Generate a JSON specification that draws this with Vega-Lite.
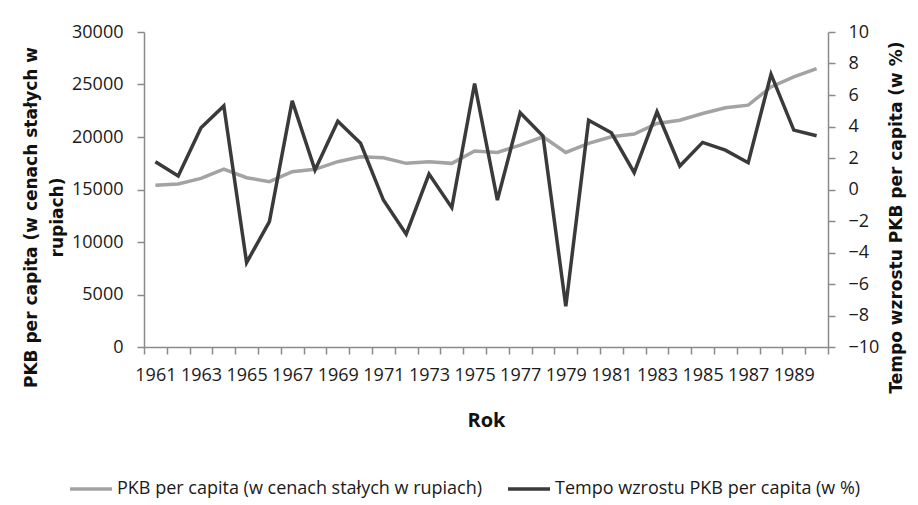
{
  "$schema": "https://vega.github.io/schema/vega-lite/v6.json",
  "width": 684,
  "height": 315,
  "autosize": {"type": "none"},
  "padding": {"left": 144, "top": 32, "right": 90, "bottom": 158},
  "background": "white",
  "config": {
    "view": {"stroke": null},
    "axis": {
      "domainColor": "#8a8a8a",
      "tickColor": "#8a8a8a",
      "domainWidth": 1.5,
      "tickWidth": 1.5,
      "grid": false,
      "labelFont": "Open Sans",
      "labelFontSize": 18,
      "labelColor": "#1a1a1a",
      "titleColor": "#111111"
    }
  },
  "data": {
    "values": [
      {"year": 1961, "pkb": 15400, "growth": 1.76},
      {"year": 1962, "pkb": 15520, "growth": 0.86},
      {"year": 1963, "pkb": 16060, "growth": 3.92},
      {"year": 1964, "pkb": 16950, "growth": 5.31},
      {"year": 1965, "pkb": 16120, "growth": -4.64},
      {"year": 1966, "pkb": 15750, "growth": -2.04},
      {"year": 1967, "pkb": 16700, "growth": 5.63},
      {"year": 1968, "pkb": 16920, "growth": 1.24},
      {"year": 1969, "pkb": 17650, "growth": 4.34},
      {"year": 1970, "pkb": 18120, "growth": 2.93},
      {"year": 1971, "pkb": 18030, "growth": -0.67},
      {"year": 1972, "pkb": 17490, "growth": -2.84},
      {"year": 1973, "pkb": 17650, "growth": 0.98},
      {"year": 1974, "pkb": 17490, "growth": -1.15},
      {"year": 1975, "pkb": 18660, "growth": 6.73},
      {"year": 1976, "pkb": 18530, "growth": -0.67},
      {"year": 1977, "pkb": 19230, "growth": 4.87},
      {"year": 1978, "pkb": 20020, "growth": 3.39},
      {"year": 1979, "pkb": 18530, "growth": -7.42},
      {"year": 1980, "pkb": 19390, "growth": 4.4},
      {"year": 1981, "pkb": 20020, "growth": 3.6},
      {"year": 1982, "pkb": 20280, "growth": 1.07},
      {"year": 1983, "pkb": 21290, "growth": 4.93},
      {"year": 1984, "pkb": 21600, "growth": 1.49},
      {"year": 1985, "pkb": 22240, "growth": 2.99},
      {"year": 1986, "pkb": 22780, "growth": 2.5},
      {"year": 1987, "pkb": 23030, "growth": 1.7},
      {"year": 1988, "pkb": 24770, "growth": 7.32},
      {"year": 1989, "pkb": 25720, "growth": 3.77},
      {"year": 1990, "pkb": 26520, "growth": 3.41}
    ]
  },
  "layer": [
    {
      "mark": {"type": "line", "strokeWidth": 3.5},
      "encoding": {
        "x": {
          "field": "year",
          "type": "ordinal",
          "scale": {"type": "band", "paddingInner": 0, "paddingOuter": 0},
          "axis": {
            "tickBand": "extent",
            "tickSize": 7,
            "labelPadding": 12,
            "labelAngle": 0,
            "labelOverlap": false,
            "labelExpr": "datum.value % 2 == 1 ? datum.label : ''",
            "title": "Rok",
            "titleFont": "Open Sans",
            "titleFontSize": 20,
            "titleFontWeight": "bold",
            "titleY": 73,
            "titleBaseline": "middle"
          }
        },
        "y": {
          "field": "pkb",
          "type": "quantitative",
          "scale": {"domain": [0, 30000]},
          "axis": {
            "values": [0, 5000, 10000, 15000, 20000, 25000, 30000],
            "format": "d",
            "tickSize": 7,
            "labelPadding": 14,
            "title": ["PKB per capita (w cenach stałych w", "rupiach)"],
            "titleFont": "DejaVu Sans",
            "titleFontSize": 17,
            "titleFontWeight": "bold",
            "titleAngle": 270,
            "titleAlign": "center",
            "titleBaseline": "middle",
            "titleLineHeight": 26,
            "titleX": -113,
            "titleY": 185
          }
        },
        "color": {
          "datum": "PKB per capita (w cenach stałych w rupiach)",
          "type": "nominal",
          "scale": {
            "domain": ["PKB per capita (w cenach stałych w rupiach)", "Tempo wzrostu PKB per capita (w %)"],
            "range": ["#a3a3a3", "#3a3a3a"]
          },
          "legend": {
            "orient": "none",
            "direction": "horizontal",
            "legendX": -76,
            "legendY": 434,
            "title": null,
            "symbolType": "stroke",
            "symbolStrokeWidth": 3.5,
            "symbolSize": 1764,
            "labelFont": "Open Sans",
            "labelFontSize": 18,
            "labelColor": "#1a1a1a",
            "labelLimit": 0,
            "labelOffset": 3,
            "columnPadding": 18,
            "padding": 0
          }
        }
      }
    },
    {
      "mark": {"type": "line", "strokeWidth": 3.5},
      "encoding": {
        "x": {"field": "year", "type": "ordinal"},
        "y": {
          "field": "growth",
          "type": "quantitative",
          "scale": {"domain": [-10, 10]},
          "axis": {
            "orient": "right",
            "values": [-10, -8, -6, -4, -2, 0, 2, 4, 6, 8, 10],
            "tickSize": 7,
            "labelPadding": 13,
            "title": "Tempo wzrostu PKB per capita (w %)",
            "titleFont": "DejaVu Sans",
            "titleFontSize": 17,
            "titleFontWeight": "bold",
            "titleAngle": 270,
            "titleAlign": "center",
            "titleBaseline": "middle",
            "titleX": 68,
            "titleY": 185
          }
        },
        "color": {"datum": "Tempo wzrostu PKB per capita (w %)", "type": "nominal"}
      }
    }
  ],
  "resolve": {"scale": {"y": "independent"}}
}
